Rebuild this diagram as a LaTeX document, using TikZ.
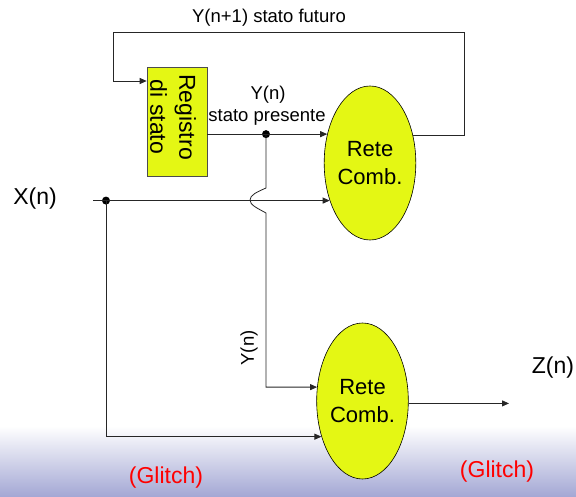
\documentclass[tikz,border=0pt]{standalone}
\usepackage{fontspec}
\setmainfont{Liberation Sans}
\usetikzlibrary{shapes.geometric,arrows.meta}
\definecolor{ylw}{RGB}{228,247,20}
\definecolor{lav}{RGB}{163,167,212}
\begin{document}
\begin{tikzpicture}[x=1pt,y=-1pt,
  wire/.style={draw=black!85, line width=0.8pt},
  arr/.style={wire,-{Triangle[length=7pt,width=6pt]}},
  comb/.style={ellipse, draw=black, line width=0.6pt, fill=ylw, inner sep=0pt,
    minimum width=90pt, minimum height=154pt, align=center,
    font=\fontsize{22}{28}\selectfont},
  lbl/.style={font=\fontsize{18.5}{22}\selectfont, inner sep=0pt},
  big/.style={font=\fontsize{23}{28}\selectfont, inner sep=0pt},
  glitch/.style={big, text=red},
  dot/.style={circle, fill=black, inner sep=0pt, minimum size=8pt}]

\useasboundingbox (0,0) rectangle (576,497);
\shade[top color=white,middle color=lav!30,bottom color=lav] (0,426) rectangle (576,497);

% register
\node[draw=black!70, fill=ylw, minimum width=60pt, minimum height=109pt,
      inner sep=0pt, line width=0.6pt] (R) at (177,121.5) {};
\node[rotate=-90, align=center, font=\fontsize{23}{29}\selectfont, inner sep=0pt]
      (Rt) at (173,117) {Registro\\di stato};

% combinational networks
\node[comb] (E1) at (370,163) {Rete\\Comb.};
\node[comb, minimum width=91pt, minimum height=156pt] (E2) at (362.5,401) {Rete\\Comb.};

% junctions
\node[dot] (d1) at (266,0 |- E1.146.25) {};
\node[dot] (d2) at (106,0 |- E1.223.1) {};
\coordinate (xin) at (93,0 |- E1.223.1);
\coordinate (fbA) at (464,32);
\coordinate (fbB) at (113,32);
\coordinate (fbC) at (113,81);
\coordinate (yb) at (266,0 |- E2.163.85);
\coordinate (xb) at (106,0 |- E2.221.6);
\coordinate (zout) at (509,0 |- E2.357.5);

% feedback Y(n+1)
\draw[arr] (E1.33.75) -| (fbA) -- (fbB) -- (fbC) -- (fbC -| R.west);
% present state
\draw[arr] (R.east |- E1.146.25) -- (E1.146.25);
% Y(n) down to second network, with a jump over X(n)
\draw[arr] (d1.center) -- (266,188)
  .. controls (257,192) and (250,195) .. (250,200)
  .. controls (250,205) and (257,208) .. (266,213)
  -- (yb) -- (E2.163.85);
% X(n)
\draw[arr] (xin) -- (E1.223.1);
\draw[arr] (d2.center) -- (xb) -- (E2.221.6);
% Z(n)
\draw[arr] (E2.357.5) -- (zout);

% labels
\node[lbl] (lfut) at (269,18) {Y(n+1) stato futuro};
\node[lbl] (lyn) at (268,95) {Y(n)};
\node[lbl] (lsp) at (267,117) {stato presente};
\node[lbl, rotate=90] (lyn2) at (249,348) {Y(n)};
\node[big] (lx) at (35,199) {X(n)};
\node[big] (lz) at (553,368) {Z(n)};
\node[glitch] (g1) at (166,478) {(Glitch)};
\node[glitch] (g2) at (497,472) {(Glitch)};
\end{tikzpicture}
\end{document}
